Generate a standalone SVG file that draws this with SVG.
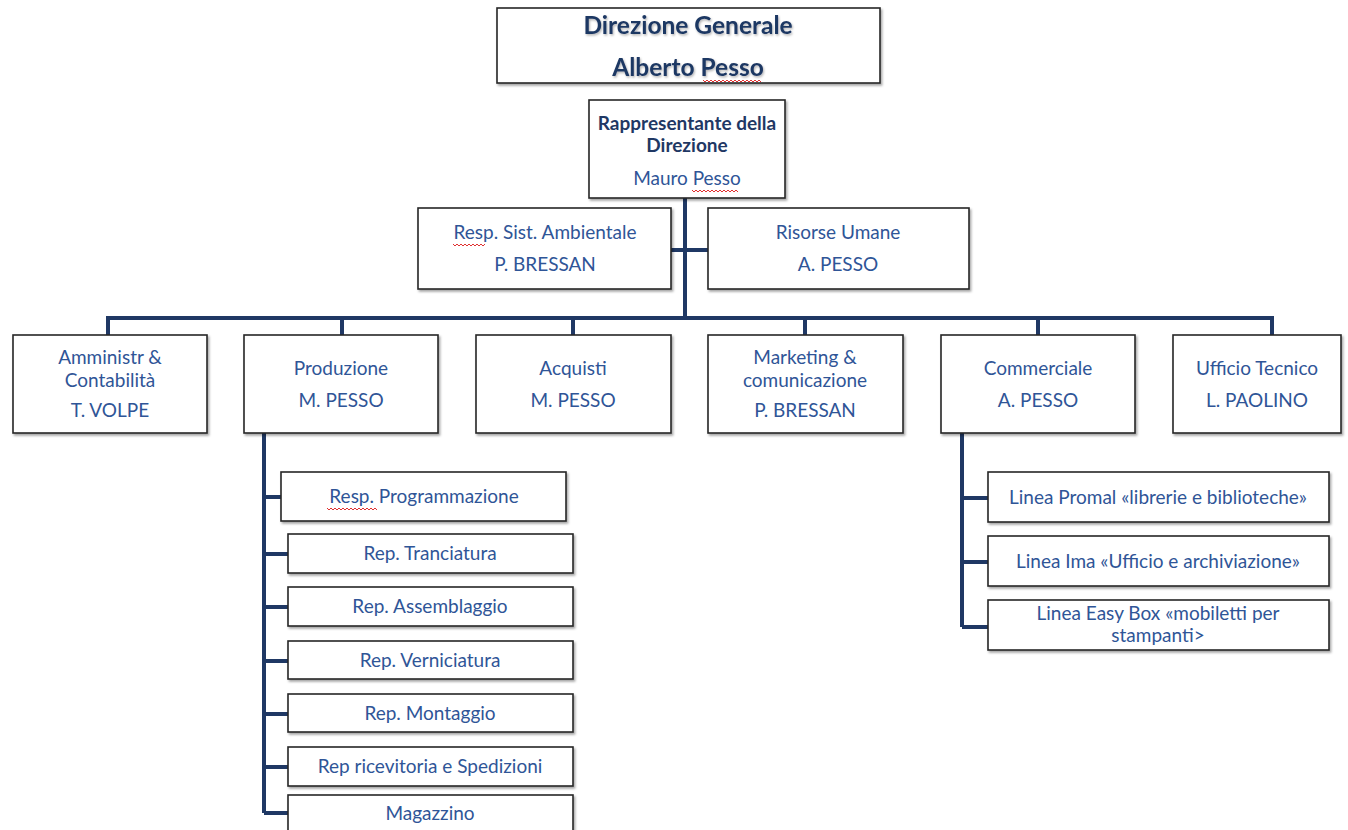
<svg xmlns="http://www.w3.org/2000/svg" width="1348" height="830" viewBox="0 0 1348 830">
<defs>
<filter id="sh" x="-5%" y="-5%" width="110%" height="120%">
<feDropShadow dx="1.5" dy="2" stdDeviation="1.2" flood-color="#000" flood-opacity="0.35"/>
</filter>
<filter id="tsh" x="-5%" y="-20%" width="110%" height="140%">
<feDropShadow dx="1" dy="1.5" stdDeviation="1" flood-color="#000" flood-opacity="0.3"/>
</filter>
</defs>
<style>
rect.b{fill:#fff;stroke:#262626;stroke-width:1.6;filter:url(#sh)}
text{font-family:Lato,"Liberation Sans",Arial,sans-serif;fill:#2F5597;font-size:19px;text-anchor:middle}
text.t{fill:#1F3864;font-weight:bold;font-size:24.5px;filter:url(#tsh)}
text.s{fill:#1F3864;font-weight:bold;font-size:19px}
.c{fill:none;stroke:#1F3864;stroke-width:4}
.sq{fill:none;stroke:#e03030;stroke-width:1}
</style>
<rect width="1348" height="830" fill="#fff"/>
<g id="connectors">
<path class="c" d="M685 198V318M671 250H708M108 335V318H1272V335M342 318V335M573 318V335M805 318V335M1038 318V335"/>
<path class="c" d="M264 433V813M264 497H281M264 554H288M264 607H288M264 661H288M264 714H288M264 767H288M264 813H288"/>
<path class="c" d="M962 433V627M962 498H988M962 562H988M962 627H988"/>
</g>
<g id="n-direzione"><rect class="b" x="497" y="8" width="383" height="75"/><text class="t" x="688" y="34">Direzione Generale</text><text class="t" x="688" y="76">Alberto Pesso</text><path class="sq" d="M703 80l2 2 2-2 2 2 2-2 2 2 2-2 2 2 2-2 2 2 2-2 2 2 2-2 2 2 2-2 2 2 2-2 2 2 2-2 2 2 2-2 2 2 2-2 2 2 2-2 2 2 2-2 2 2 2-2 2 2"/></g>
<g id="n-rappresentante"><rect class="b" x="589" y="100" width="196" height="98"/><text class="s" x="687" y="130">Rappresentante della</text><text class="s" x="687" y="152">Direzione</text><text x="687" y="185">Mauro Pesso</text><path class="sq" d="M692 190l2 2 2-2 2 2 2-2 2 2 2-2 2 2 2-2 2 2 2-2 2 2 2-2 2 2 2-2 2 2 2-2 2 2 2-2 2 2 2-2 2 2 2-2 2 2"/></g>
<g id="n-ambientale"><rect class="b" x="418" y="208" width="253" height="81"/><text x="545" y="239">Resp. Sist. Ambientale</text><text x="545" y="271">P. BRESSAN</text><path class="sq" d="M453 244l2 2 2-2 2 2 2-2 2 2 2-2 2 2 2-2 2 2 2-2 2 2 2-2 2 2 2-2 2 2 2-2"/></g>
<g id="n-risorse"><rect class="b" x="708" y="208" width="261" height="81"/><text x="838" y="239">Risorse Umane</text><text x="838" y="271">A. PESSO</text></g>
<g id="n-amministr"><rect class="b" x="13" y="335" width="194" height="98"/><text x="110" y="364">Amministr &amp;</text><text x="110" y="387">Contabilità</text><text x="110" y="417">T. VOLPE</text></g>
<g id="n-produzione"><rect class="b" x="244" y="335" width="194" height="98"/><text x="341" y="375">Produzione</text><text x="341" y="407">M. PESSO</text></g>
<g id="n-acquisti"><rect class="b" x="476" y="335" width="195" height="98"/><text x="573" y="375">Acquisti</text><text x="573" y="407">M. PESSO</text></g>
<g id="n-marketing"><rect class="b" x="708" y="335" width="195" height="98"/><text x="805" y="364">Marketing &amp;</text><text x="805" y="387">comunicazione</text><text x="805" y="417">P. BRESSAN</text></g>
<g id="n-commerciale"><rect class="b" x="941" y="335" width="194" height="98"/><text x="1038" y="375">Commerciale</text><text x="1038" y="407">A. PESSO</text></g>
<g id="n-ufficio"><rect class="b" x="1173" y="335" width="168" height="98"/><text x="1257" y="375">Ufficio Tecnico</text><text x="1257" y="407">L. PAOLINO</text></g>
<g id="n-programmazione"><rect class="b" x="281" y="472" width="285" height="49"/><text x="424" y="503">Resp. Programmazione</text><path class="sq" d="M327 508l2 2 2-2 2 2 2-2 2 2 2-2 2 2 2-2 2 2 2-2 2 2 2-2 2 2 2-2 2 2 2-2 2 2 2-2 2 2 2-2 2 2 2-2 2 2 2-2 2 2"/></g>
<g id="n-tranciatura"><rect class="b" x="288" y="534" width="285" height="39"/><text x="430" y="560">Rep. Tranciatura</text></g>
<g id="n-assemblaggio"><rect class="b" x="288" y="587" width="285" height="39"/><text x="430" y="613">Rep. Assemblaggio</text></g>
<g id="n-verniciatura"><rect class="b" x="288" y="641" width="285" height="38"/><text x="430" y="667">Rep. Verniciatura</text></g>
<g id="n-montaggio"><rect class="b" x="288" y="694" width="285" height="38"/><text x="430" y="720">Rep. Montaggio</text></g>
<g id="n-ricevitoria"><rect class="b" x="288" y="747" width="285" height="39"/><text x="430" y="773">Rep ricevitoria e Spedizioni</text></g>
<g id="n-magazzino"><rect class="b" x="288" y="795" width="285" height="45"/><text x="430" y="820">Magazzino</text></g>
<g id="n-promal"><rect class="b" x="988" y="472" width="341" height="50"/><text x="1158" y="504">Linea Promal «librerie e biblioteche»</text></g>
<g id="n-ima"><rect class="b" x="988" y="536" width="341" height="50"/><text x="1158" y="568">Linea Ima «Ufficio e archiviazione»</text></g>
<g id="n-easybox"><rect class="b" x="988" y="600" width="341" height="50"/><text x="1158" y="620">Linea Easy Box «mobiletti per</text><text x="1158" y="642">stampanti&gt;</text></g>
</svg>
